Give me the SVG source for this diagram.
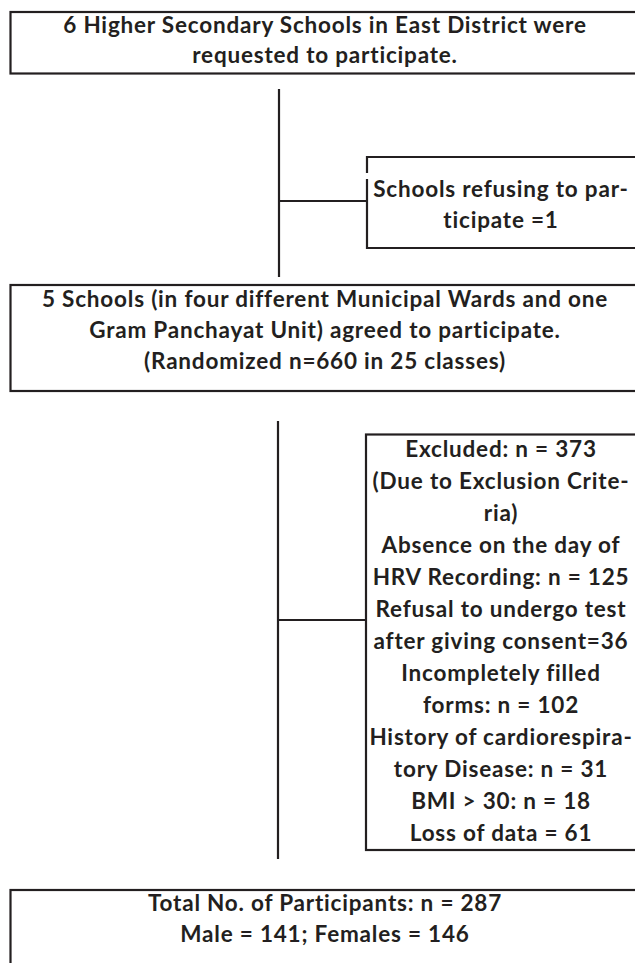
<svg xmlns="http://www.w3.org/2000/svg" width="635" height="963" viewBox="0 0 635 963">
<style>
.box{fill:none;stroke:#231f20;stroke-width:2.2}
.ln{fill:none;stroke:#231f20;stroke-width:2.2}
text{font-family:Lato,"Liberation Sans",sans-serif;font-weight:bold;font-size:22.5px;letter-spacing:0.8px;fill:#231f20;text-anchor:middle}
</style>
<rect width="635" height="963" fill="#ffffff"/>
<g id="connectors">
<line class="ln" x1="279" y1="89" x2="279" y2="277"/>
<line class="ln" x1="279" y1="201" x2="366" y2="201"/>
<line class="ln" x1="278" y1="421" x2="278" y2="859"/>
<line class="ln" x1="278" y1="620" x2="366" y2="620"/>
</g>
<g id="node-invited">
<rect class="box" x="10.5" y="12" width="640" height="61.5"/>
<text x="325" y="33">6 Higher Secondary Schools in East District were</text>
<text x="325" y="63">requested to participate.</text>
</g>
<g id="node-refused">
<path class="box" d="M640 157 H367 V173 M367 179 V248 H640"/>
<text x="501" y="197">Schools refusing to par-</text>
<text x="501" y="228">ticipate =1</text>
</g>
<g id="node-agreed">
<rect class="box" x="10.5" y="285" width="640" height="106"/>
<text x="325" y="307">5 Schools (in four different Municipal Wards and one</text>
<text x="325" y="338">Gram Panchayat Unit) agreed to participate.</text>
<text x="325" y="369">(Randomized n=660 in 25 classes)</text>
</g>
<g id="node-excluded">
<rect class="box" x="366" y="434.5" width="280" height="415.5"/>
<text x="501" y="457">Excluded: n = 373</text>
<text x="501" y="489">(Due to Exclusion Crite-</text>
<text x="501" y="521">ria)</text>
<text x="501" y="553">Absence on the day of</text>
<text x="501" y="585">HRV Recording: n = 125</text>
<text x="501" y="617">Refusal to undergo test</text>
<text x="501" y="649">after giving consent=36</text>
<text x="501" y="681">Incompletely filled</text>
<text x="501" y="713">forms: n = 102</text>
<text x="501" y="745">History of cardiorespira-</text>
<text x="501" y="777">tory Disease: n = 31</text>
<text x="501" y="809">BMI &gt; 30: n = 18</text>
<text x="501" y="841">Loss of data = 61</text>
</g>
<g id="node-total">
<rect class="box" x="10.5" y="890" width="640" height="90"/>
<text x="325" y="911">Total No. of Participants: n = 287</text>
<text x="325" y="942">Male = 141; Females = 146</text>
</g>
</svg>
